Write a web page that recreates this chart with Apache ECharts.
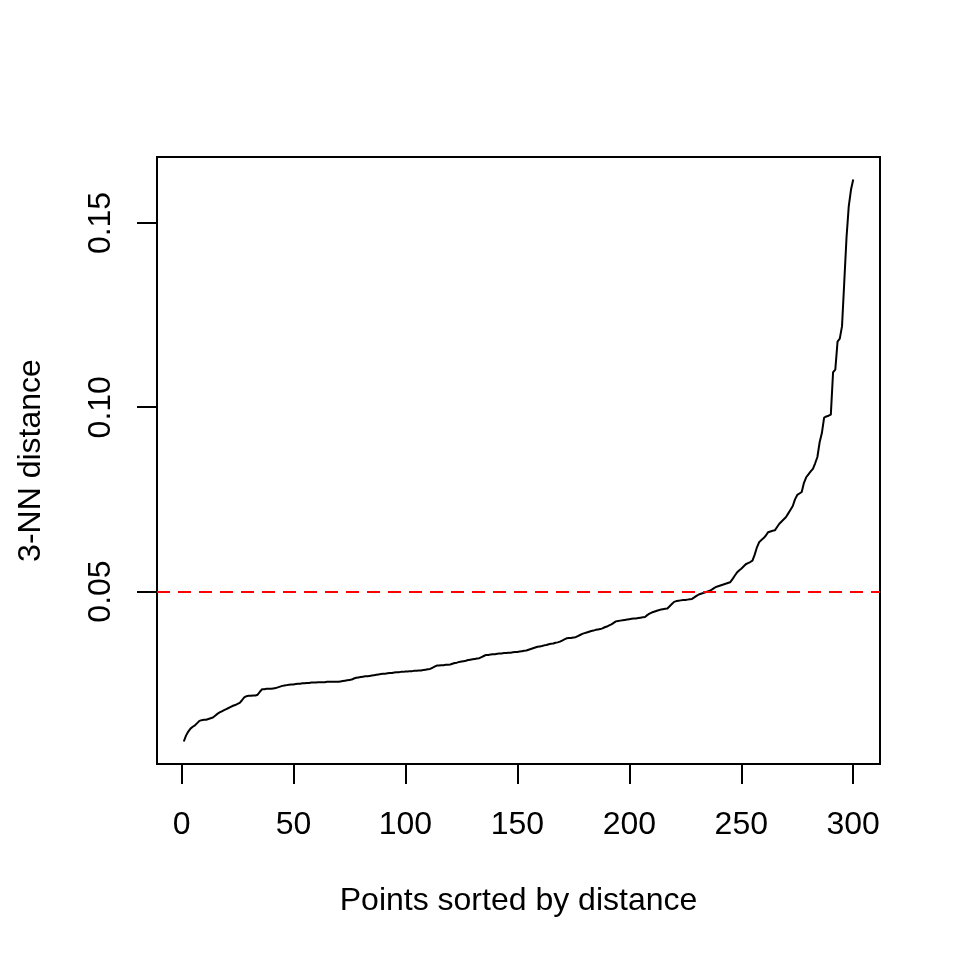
<!DOCTYPE html>
<html>
<head>
<meta charset="utf-8">
<script src="https://cdn.jsdelivr.net/npm/echarts@6/dist/echarts.min.js"></script>
<style>html,body{margin:0;padding:0;background:#fff}#c{width:960px;height:960px}</style>
</head>
<body>
<div id="c"></div>
<script>
// sorted 3-NN distances, point index = position + 1
const knnDist = [
0.0093,0.0109,0.0120,0.0128,0.0133,0.0137,0.0143,0.0149,0.0151,0.0152,
0.0152,0.0154,0.0156,0.0158,0.0163,0.0168,0.0172,0.0175,0.0178,0.0181,
0.0184,0.0187,0.0190,0.0192,0.0195,0.0198,0.0205,0.0213,0.0216,0.0217,
0.0217,0.0218,0.0218,0.0220,0.0228,0.0235,0.0235,0.0236,0.0236,0.0236,
0.0237,0.0238,0.0240,0.0242,0.0244,0.0245,0.0246,0.0247,0.0248,0.0248,
0.0249,0.0250,0.0250,0.0251,0.0251,0.0252,0.0252,0.0253,0.0253,0.0253,
0.0254,0.0254,0.0254,0.0254,0.0255,0.0255,0.0255,0.0255,0.0255,0.0255,
0.0256,0.0257,0.0258,0.0259,0.0260,0.0261,0.0264,0.0266,0.0267,0.0268,
0.0269,0.0270,0.0270,0.0271,0.0272,0.0273,0.0274,0.0275,0.0276,0.0277,
0.0277,0.0278,0.0279,0.0279,0.0280,0.0281,0.0281,0.0282,0.0282,0.0283,
0.0283,0.0284,0.0284,0.0285,0.0285,0.0286,0.0286,0.0287,0.0288,0.0289,
0.0290,0.0293,0.0296,0.0299,0.0299,0.0300,0.0300,0.0301,0.0301,0.0302,
0.0304,0.0306,0.0307,0.0309,0.0310,0.0311,0.0312,0.0314,0.0315,0.0316,
0.0317,0.0318,0.0319,0.0322,0.0325,0.0328,0.0328,0.0329,0.0330,0.0330,
0.0331,0.0332,0.0332,0.0333,0.0333,0.0334,0.0334,0.0335,0.0336,0.0336,
0.0337,0.0338,0.0339,0.0340,0.0342,0.0344,0.0346,0.0348,0.0350,0.0351,
0.0352,0.0354,0.0355,0.0357,0.0358,0.0359,0.0361,0.0362,0.0364,0.0367,
0.0370,0.0373,0.0374,0.0374,0.0375,0.0376,0.0379,0.0382,0.0385,0.0387,
0.0389,0.0391,0.0393,0.0394,0.0396,0.0397,0.0398,0.0400,0.0403,0.0405,
0.0408,0.0411,0.0415,0.0419,0.0420,0.0421,0.0422,0.0423,0.0424,0.0425,
0.0426,0.0427,0.0427,0.0428,0.0429,0.0430,0.0431,0.0436,0.0440,0.0443,
0.0445,0.0447,0.0449,0.0451,0.0452,0.0453,0.0454,0.0460,0.0466,0.0472,
0.0474,0.0475,0.0476,0.0477,0.0477,0.0478,0.0479,0.0480,0.0484,0.0488,
0.0492,0.0494,0.0496,0.0498,0.0500,0.0502,0.0506,0.0510,0.0513,0.0515,
0.0517,0.0519,0.0521,0.0523,0.0525,0.0533,0.0542,0.0551,0.0557,0.0562,
0.0568,0.0574,0.0577,0.0580,0.0584,0.0600,0.0620,0.0634,0.0640,0.0645,
0.0652,0.0661,0.0663,0.0665,0.0666,0.0675,0.0684,0.0690,0.0696,0.0702,
0.0712,0.0722,0.0732,0.0750,0.0762,0.0766,0.0770,0.0795,0.0810,0.0818,
0.0826,0.0833,0.0848,0.0865,0.0905,0.0930,0.0972,0.0975,0.0977,0.0980,
0.1095,0.1102,0.1178,0.1186,0.1220,0.1340,0.1460,0.1545,0.1590,0.1618
];
const xTicks = [0, 50, 100, 150, 200, 250, 300];
const yTicks = [0.05, 0.10, 0.15];
const epsValue = 0.05;
const xLabel = 'Points sorted by distance';
const yLabel = '3-NN distance';

const points = knnDist.map((v, i) => [i + 1, v]);
const n = knnDist.length;
const xPad = (n - 1) * 0.04;
const yMin = Math.min(...knnDist), yMax = Math.max(...knnDist);
const yPad = (yMax - yMin) * 0.04;

const FONT = 'Liberation Sans, Arial, Helvetica, sans-serif';
const FS = 32;

const chart = echarts.init(document.getElementById('c'), null, {renderer: 'canvas'});
chart.setOption({
  animation: false,
  backgroundColor: '#ffffff',
  grid: {left: 157, right: 80, top: 157, bottom: 196, show: true, borderColor: '#000', borderWidth: 2, backgroundColor: 'transparent'},
  xAxis: {
    type: 'value', min: 1 - xPad, max: n + xPad,
    splitLine: {show: false},
    axisLine: {show: false, onZero: false},
    axisTick: {show: true, customValues: xTicks, length: 20, lineStyle: {color: '#000', width: 2}},
    axisLabel: {customValues: xTicks, color: '#000', fontSize: FS, fontFamily: FONT, margin: 45, formatter: v => String(v)},
    name: xLabel, nameLocation: 'middle', nameGap: 121,
    nameTextStyle: {color: '#000', fontSize: FS, fontFamily: FONT}
  },
  yAxis: {
    type: 'value', min: yMin - yPad, max: yMax + yPad,
    splitLine: {show: false},
    axisLine: {show: false, onZero: false},
    axisTick: {show: true, customValues: yTicks, length: 20, lineStyle: {color: '#000', width: 2}},
    axisLabel: {customValues: yTicks, color: '#000', fontSize: FS, fontFamily: FONT, margin: 40, rotate: 90, formatter: v => v.toFixed(2)},
    name: yLabel, nameLocation: 'middle', nameGap: 110, nameRotate: 90,
    nameTextStyle: {color: '#000', fontSize: FS, fontFamily: FONT}
  },
  series: [{
    type: 'line', data: points, showSymbol: false, symbol: 'none',
    lineStyle: {color: '#000', width: 2}, silent: true,
    markLine: {
      silent: true, symbol: 'none', label: {show: false},
      lineStyle: {color: '#ff0000', width: 2, type: [13, 8]},
      data: [{yAxis: epsValue}]
    }
  }]
});
</script>
</body>
</html>
